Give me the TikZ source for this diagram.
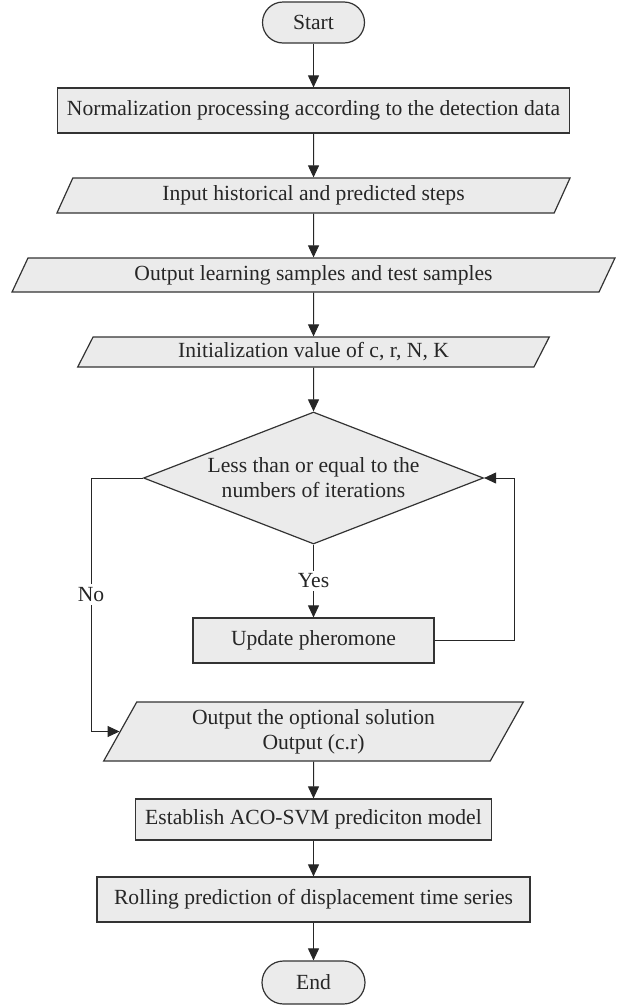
\documentclass[tikz,border=0pt]{standalone}
\usepackage{fontspec}
\setmainfont{Liberation Serif}
\usetikzlibrary{shapes.geometric,shapes.misc,arrows.meta}

\begin{document}
\begin{tikzpicture}[x=0.5pt,y=-0.5pt,
    font=\fontsize{10.8}{12.5}\selectfont,
    shapebox/.style={draw=black!80,fill=black!8,line width=0.6pt,inner sep=0pt,text=black!85,align=center},
    termbox/.style={shapebox,rounded rectangle},
    procbox/.style={shapebox,rectangle},
    iobox/.style={shapebox,trapezium,trapezium left angle=63,trapezium right angle=117,trapezium stretches=true},
    decbox/.style={shapebox,diamond,aspect=2.6},
    flow/.style={draw=black!85,line width=0.5pt,-{Triangle[length=6pt,width=5.5pt]}}]
    \useasboundingbox (0,0) rectangle (624,1007);

    % Start and first steps
    \node[termbox, minimum width=51pt, minimum height=20.5pt] (start) at (313.5,22.5) {Start};
    \node[procbox, minimum width=256pt, minimum height=22.5pt] (norm) at (313.5,110.5) {Normalization processing according to the detection data};
    \node[iobox, minimum width=257pt, minimum height=17.5pt] (input) at (313.5,195.5) {Input historical and predicted steps};
    \node[iobox, minimum width=302pt, minimum height=17pt] (samples) at (313.5,275) {Output learning samples and test samples};
    \node[iobox, minimum width=236pt, minimum height=15pt] (init) at (313.5,352) {Initialization value of c, r, N, K};

    % Iteration test and pheromone update
    \node[decbox, minimum width=170pt, minimum height=66pt] (iter) at (313.5,478) {Less than or equal to the\\numbers of iterations};
    \node[procbox, minimum width=120.5pt, minimum height=22.5pt] (update) at (313.5,640.5) {Update pheromone};
    \coordinate (noturn) at (91,478);
    \coordinate (loopturn) at (514,640.5);

    % Output and model
    \node[iobox, minimum width=210pt, minimum height=29.5pt] (optimal) at (313.5,731.5) {Output the optional solution\\Output (c.r)};
    \node[procbox, minimum width=178pt, minimum height=20.5pt] (model) at (313.5,819.5) {Establish ACO-SVM prediciton model};
    \node[procbox, minimum width=216.5pt, minimum height=22.5pt] (rolling) at (313.5,899.5) {Rolling prediction of displacement time series};
    \node[termbox, minimum width=51.5pt, minimum height=21.5pt] (finish) at (313.5,982.5) {End};

    % Straight arrows down the chart
    \foreach \a/\b in {start/norm,norm/input,input/samples,samples/init,init/iter,optimal/model,model/rolling,rolling/finish}
    \draw[flow] (\a.south) -- (\b.north);

    % Yes branch
    \draw[flow] (iter.south) -- node[fill=white,inner sep=1.5pt,text=black!85] {Yes} (update.north);

    % Loop back to the test
    \draw[flow] (update.east) -- (loopturn) |- (iter.east);

    % No branch
    \draw[flow] (iter.west) -- (noturn) |- node[pos=0.23,fill=white,inner sep=1.5pt,text=black!85] {No} (optimal.west);
\end{tikzpicture}
\end{document}
